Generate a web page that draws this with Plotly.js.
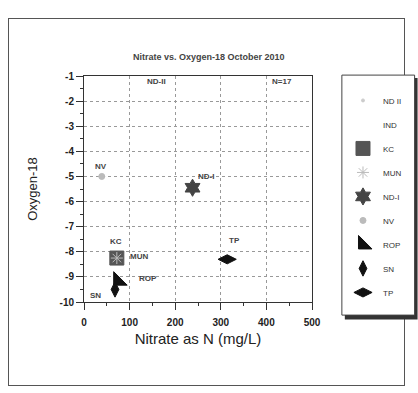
<!DOCTYPE html>
<html><head><meta charset="utf-8">
<script src="https://cdn.plot.ly/plotly-3.0.1.min.js"></script>
<style>
html,body{margin:0;padding:0;background:#fff;}
#frame{position:absolute;left:8px;top:18px;width:395px;height:366px;border:1px solid #555;}
#chart{position:absolute;left:0;top:0;width:418px;height:393px;}
</style></head><body>
<div id="frame"></div>
<div id="chart"></div>
<script>
const names = ['ND II','IND','KC','MUN','ND-I','NV','ROP','SN','TP'];
const nitrate = [null, null, 72, 72, 238, 39, 75, 68, 314];
const oxygen = [null, null, -8.25, -8.25, -5.45, -5.0, -9.15, -9.5, -8.3];
const symbols = ['circle','circle','square','asterisk-open','hexagram','circle','triangle-sw','diamond-tall','diamond-wide'];
const sizes = [3, 0, 14, 10, 13, 6, 15, 11, 13];
const colors = ['#cccccc','#ffffff','#555555','#bbbbbb','#444444','#bbbbbb','#111111','#111111','#111111'];
const yTickVals = [-1,-2,-3,-4,-5,-6,-7,-8,-9,-10];
const yTickText = ['-1','-2','-3','-4','-5','-6','-7','-8','-9','-10'];
const labelText = ['NV','ND-I','KC','MUN','ROP','SN','TP','ND-II','N=17'];
const labelX = [38, 268, 70, 120, 140, 25, 330, 160, 435];
const labelY = [-4.6, -5.0, -7.6, -8.2, -9.05, -9.75, -7.55, -1.2, -1.2];

const traces = names.map((n,i)=>({
  type:'scatter', mode:'markers', name:n,
  x:[nitrate[i]], y:[oxygen[i]],
  legendgroup:n,
  marker:{symbol:symbols[i], size:sizes[i], color:colors[i], line:{color:colors[i], width:1}}
}));

const annotations = labelText.map((t,i)=>({
  x:labelX[i], y:labelY[i], xref:'x', yref:'y', text:'<b>'+t+'</b>', showarrow:false,
  font:{family:'Liberation Sans, Arial', size:8, color:'#444'}
}));
annotations.push({
  xref:'paper', yref:'paper', x:0.55, y:1.0, yshift:26, text:'<b>Nitrate vs. Oxygen-18 October 2010</b>',
  showarrow:false, font:{family:'Liberation Sans, Arial', size:9, color:'#444'}
});

const axisCommon = {
  showline:true, linecolor:'#333', linewidth:1, mirror:true,
  ticks:'outside', ticklen:7, tickcolor:'#333',
  showgrid:true, gridcolor:'#999', griddash:'dot', gridwidth:1,
  zeroline:false,
  tickfont:{family:'Liberation Sans, Arial', size:10, color:'#222', weight:'bold'}
};

const shapes = [
  {type:'rect', xref:'paper', yref:'paper', x0:1.144, x1:1.463, y0:-0.077, y1:0.991, fillcolor:'#333', line:{width:0}},
  {type:'rect', xref:'paper', yref:'paper', x0:1.131, x1:1.450, y0:-0.058, y1:1.004, fillcolor:'#fff', line:{color:'#444', width:1}}
];

const layout = {
  width:418, height:393,
  margin:{l:84, r:105, t:76, b:91},
  paper_bgcolor:'rgba(0,0,0,0)', plot_bgcolor:'#fff',
  showlegend:true,
  legend:{x:1.131, y:0.956, xanchor:'left', yanchor:'top',
    borderwidth:0, bgcolor:'rgba(0,0,0,0)',
    traceorder:'grouped', tracegroupgap:5,
    font:{family:'Liberation Sans, Arial', size:8, color:'#333'}},
  xaxis:Object.assign({}, axisCommon, {
    range:[0,500], dtick:100, tick0:0, ticklabelstandoff:4,
    minor:{dtick:50, ticks:'outside', ticklen:3, tickcolor:'#333', showgrid:false},
    title:{text:'Nitrate as N (mg/L)', standoff:6, font:{family:'Liberation Sans, Arial', size:15, color:'#222'}}
  }),
  yaxis:Object.assign({}, axisCommon, {
    range:[-10,-1], tickmode:'array', tickvals:yTickVals, ticktext:yTickText,
    minor:{dtick:0.5, tick0:0, ticks:'outside', ticklen:3, tickcolor:'#333', showgrid:false},
    title:{text:'Oxygen-18', standoff:18, font:{family:'Liberation Sans, Arial', size:13, color:'#222'}}
  }),
  shapes:shapes,
  annotations:annotations
};

Plotly.newPlot('chart', traces, layout, {staticPlot:true, displayModeBar:false});
</script>
</body></html>
